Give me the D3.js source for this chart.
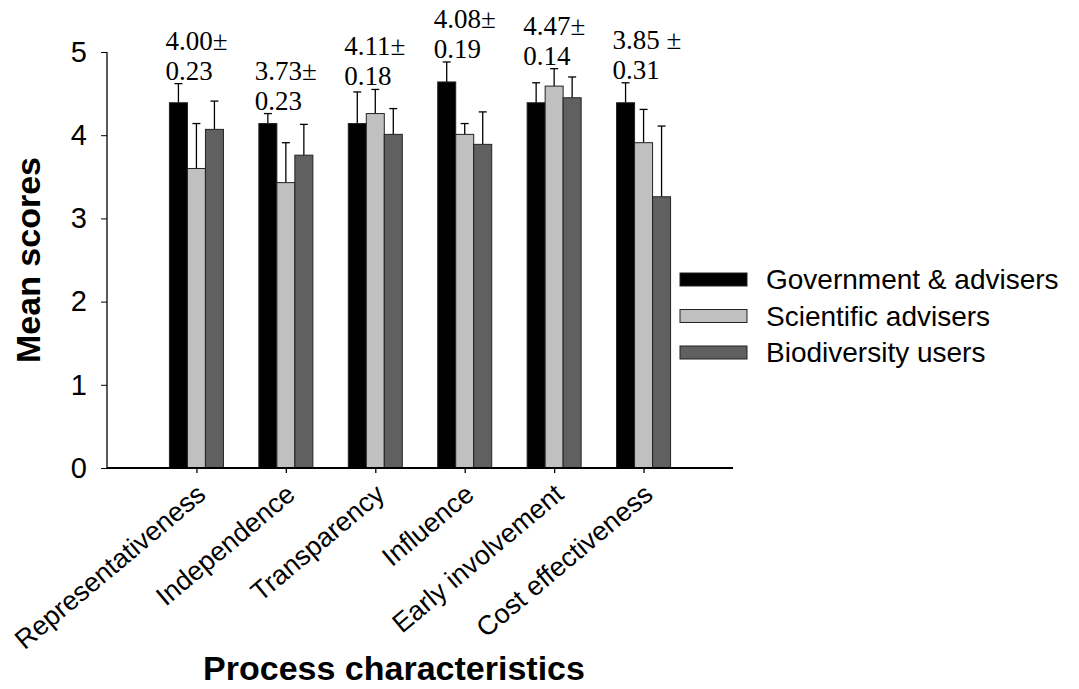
<!DOCTYPE html>
<html lang="en">
<head>
<meta charset="UTF-8">
<title>Mean scores by process characteristics</title>
<script src="https://d3js.org/d3.v7.min.js"></script>
<style>
  body { margin: 0; background: #fff; }
  text { font-family: "Liberation Sans", Arial, sans-serif; fill: #000; }
  .note { font-family: "Liberation Serif", "Times New Roman", serif; font-size: 27px; }
</style>
</head>
<body>
<div id="chart"></div>
<script>

// categories + series
var categories = ["Representativeness", "Independence", "Transparency", "Influence", "Early involvement", "Cost effectiveness"];
var seriesNames = ["Government & advisers", "Scientific advisers", "Biodiversity users"];
var govMeans = [4.39, 4.14, 4.14, 4.64, 4.39, 4.39];
var govErr   = [0.23, 0.12, 0.38, 0.24, 0.24, 0.24];
var sciMeans = [3.60, 3.43, 4.26, 4.01, 4.59, 3.91];
var sciErr   = [0.54, 0.48, 0.29, 0.13, 0.21, 0.40];
var bioMeans = [4.07, 3.76, 4.01, 3.89, 4.45, 3.26];
var bioErr   = [0.34, 0.37, 0.31, 0.39, 0.25, 0.85];
var noteTop    = ["4.00\u00b1", "3.73\u00b1", "4.11\u00b1", "4.08\u00b1", "4.47\u00b1", "3.85 \u00b1"];
var noteBottom = ["0.23", "0.23", "0.18", "0.19", "0.14", "0.31"];
var yTicks = [0, 1, 2, 3, 4, 5];

var colors = ["#000000", "#c0c0c0", "#606060"];

var W = 1079, H = 689;

// scales: groups sit at 1..6 on a 0..7 axis
var x = d3.scaleLinear().domain([0, 7]).range([107, 733]);
var y = d3.scaleLinear().domain([0, 5]).range([468, 52]);
var barW = 18;

var svg = d3.select("#chart").append("svg")
    .attr("width", W)
    .attr("height", H);

var means = [govMeans, sciMeans, bioMeans];
var errs = [govErr, sciErr, bioErr];

// flatten into bar records
var bars = [];
categories.forEach(function(c, i) {
  for (var s = 0; s < 3; s++) {
    bars.push({cat: i, s: s, v: means[s][i], e: errs[s][i]});
  }
});

function barX(d) { return x(d.cat + 1) - 1.5 * barW + d.s * barW; }

// error bars (upper only), drawn first so the bar covers the stem bottom
var eb = svg.append("g").selectAll("g")
    .data(bars)
    .enter().append("g");

eb.append("line")
    .attr("x1", function(d) { return barX(d) + barW / 2; })
    .attr("x2", function(d) { return barX(d) + barW / 2; })
    .attr("y1", function(d) { return y(d.v); })
    .attr("y2", function(d) { return y(d.v + d.e); })
    .attr("stroke", "#000")
    .attr("stroke-width", 1.3);

eb.append("line")
    .attr("x1", function(d) { return barX(d) + barW / 2 - 4; })
    .attr("x2", function(d) { return barX(d) + barW / 2 + 4; })
    .attr("y1", function(d) { return y(d.v + d.e); })
    .attr("y2", function(d) { return y(d.v + d.e); })
    .attr("stroke", "#000")
    .attr("stroke-width", 1.3);

// bars
svg.append("g").selectAll("rect")
    .data(bars)
    .enter().append("rect")
      .attr("x", barX)
      .attr("y", function(d) { return y(d.v); })
      .attr("width", barW)
      .attr("height", function(d) { return y(0) - y(d.v); })
      .attr("fill", function(d) { return colors[d.s]; })
      .attr("stroke", "#222")
      .attr("stroke-width", 1);

// annotations above each group
var notes = svg.append("g").selectAll("g")
    .data(categories)
    .enter().append("g")
      .attr("transform", function(d, i) {
        var top = d3.min([0, 1, 2], function(s) { return y(means[s][i] + errs[s][i]); });
        return "translate(" + (x(i + 1) - 1.5 * barW - 4) + "," + (top - 4) + ")";
      });

notes.append("text")
    .attr("class", "note")
    .attr("y", -30)
    .text(function(d, i) { return noteTop[i]; });

notes.append("text")
    .attr("class", "note")
    .text(function(d, i) { return noteBottom[i]; });

// Y axis
var yAxis = svg.append("g")
    .attr("transform", "translate(" + x(0) + ",0)")
    .call(d3.axisLeft(y).tickValues(yTicks).tickSize(6).tickPadding(14).tickFormat(d3.format("d")));
yAxis.select(".domain").attr("d", "M0," + y(5) + "V" + y(0)).attr("stroke-width", 1.3);
yAxis.selectAll("text").style("font-size", "29px").attr("font-family", null);
yAxis.selectAll(".tick line").attr("stroke-width", 1);

// X axis
var xAxis = svg.append("g")
    .attr("transform", "translate(0," + y(0) + ")")
    .call(d3.axisBottom(x).tickValues([1, 2, 3, 4, 5, 6]).tickSize(5).tickFormat(""));
xAxis.select(".domain").attr("d", "M" + x(0) + ",0H" + x(7)).attr("stroke-width", 2);
xAxis.selectAll(".tick line").attr("stroke-width", 1.3);

// rotated category labels
svg.append("g").selectAll("text")
    .data(categories)
    .enter().append("text")
      .attr("transform", function(d, i) {
        return "translate(" + (x(i + 1) + 11) + ",497) rotate(-40)";
      })
      .attr("text-anchor", "end")
      .style("font-size", "27px")
      .text(function(d) { return d; });

// axis titles
svg.append("text")
    .attr("transform", "translate(40,260) rotate(-90)")
    .attr("text-anchor", "middle")
    .style("font-size", "34px")
    .style("font-weight", "bold")
    .text("Mean scores");

svg.append("text")
    .attr("x", 394)
    .attr("y", 680)
    .attr("text-anchor", "middle")
    .style("font-size", "34px")
    .style("font-weight", "bold")
    .text("Process characteristics");

// Legend
var legend = svg.append("g").selectAll("g")
    .data(seriesNames)
    .enter().append("g")
      .attr("transform", function(d, i) { return "translate(680," + (273 + i * 36.5) + ")"; });

legend.append("rect")
    .attr("width", 67)
    .attr("height", 13)
    .attr("fill", function(d, i) { return colors[i]; })
    .attr("stroke", "#222")
    .attr("stroke-width", 1);

legend.append("text")
    .attr("x", 86)
    .attr("y", 6.5)
    .attr("dy", "0.35em")
    .style("font-size", "28px")
    .text(function(d) { return d; });

</script>
</body>
</html>
